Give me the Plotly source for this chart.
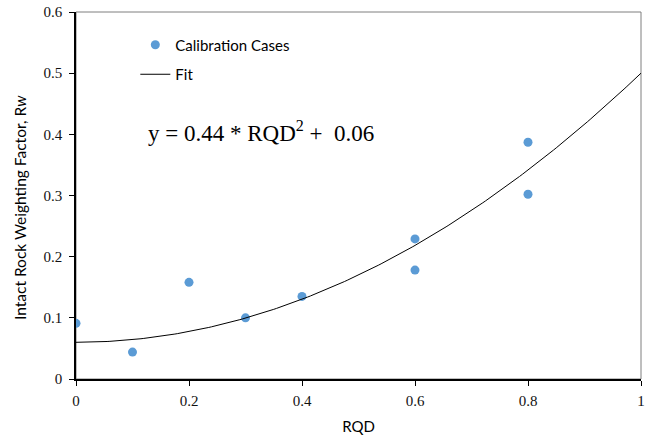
import numpy as np
import plotly.graph_objects as go

# Calibration data
rqd = [0.0, 0.1, 0.2, 0.3, 0.4, 0.6, 0.6, 0.8, 0.8]
rw = [0.091, 0.044, 0.158, 0.100, 0.135, 0.229, 0.178, 0.387, 0.302]

# Fit coefficients: Rw = A * RQD^2 + B
fit_a = 0.44
fit_b = 0.06

x_ticks = [0, 0.2, 0.4, 0.6, 0.8, 1]
x_tick_text = ["0", "0.2", "0.4", "0.6", "0.8", "1"]
y_ticks = [0, 0.1, 0.2, 0.3, 0.4, 0.5, 0.6]
y_tick_text = ["0", "0.1", "0.2", "0.3", "0.4", "0.5", "0.6"]

fit_x = np.linspace(0, 1, 201)
fit_y = fit_a * fit_x ** 2 + fit_b

sans = "Lato, Noto Sans, sans-serif"
serif = "Liberation Serif, DejaVu Serif, serif"
nb = "\u00a0"

fig = go.Figure()
fig.add_trace(go.Scatter(
    x=rqd, y=rw, mode="markers", name="Calibration Cases",
    marker=dict(color="#5B9BD5", size=9, line=dict(width=0)),
    legendgroup="a",
))
fig.add_trace(go.Scatter(
    x=fit_x, y=fit_y, mode="lines", name="Fit",
    line=dict(color="black", width=1),
    legendgroup="b",
))

# fitted equation
fig.add_annotation(
    x=0.124, y=0.405, xref="x", yref="y", xanchor="left", yanchor="middle",
    text=f"y{nb}={nb}{fit_a}{nb}*{nb}RQD<sup>2</sup>{nb}+{nb}{nb}{fit_b}",
    showarrow=False, font=dict(family=serif, size=23, color="black"),
)

# vertical axis title
fig.add_annotation(
    x=-0.099, y=0.466, xref="paper", yref="paper", xanchor="center", yanchor="middle",
    text="Intact Rock Weighting Factor, R<i>w</i>", textangle=-90, showarrow=False,
    font=dict(family=sans, size=15.5, color="black"),
)

# light frame on the top and right sides
fig.add_shape(type="rect", xref="paper", yref="paper", x0=0, y0=0, x1=1, y1=1,
              line=dict(color="#7f7f7f", width=1), layer="below")

fig.update_layout(
    width=651, height=436,
    margin=dict(l=76, r=10, t=12, b=57, autoexpand=False),
    paper_bgcolor="white", plot_bgcolor="white",
    showlegend=True,
    legend=dict(
        x=0.105, y=0.955, xanchor="left", yanchor="top",
        bgcolor="rgba(0,0,0,0)", font=dict(family=sans, size=15, color="black"),
        tracegroupgap=7, itemwidth=30,
    ),
    xaxis=dict(
        range=[0, 1], tickvals=x_ticks, ticktext=x_tick_text, automargin=False,
        showgrid=False, zeroline=False, showline=True, linecolor="black", linewidth=1.5,
        ticks="outside", ticklen=5, tickcolor="black", tickwidth=1,
        tickfont=dict(family=serif, size=15, color="#111"),
        ticklabelstandoff=2,
        title=dict(text="RQD", font=dict(family=sans, size=15, color="black"), standoff=14),
    ),
    yaxis=dict(
        range=[0, 0.6], tickvals=y_ticks, ticktext=y_tick_text, automargin=False,
        showgrid=False, zeroline=False, showline=True, linecolor="black", linewidth=1.5,
        ticks="outside", ticklen=5, tickcolor="black", tickwidth=1,
        tickfont=dict(family=serif, size=15, color="#111"),
        ticklabelstandoff=4,
    ),
)

fig.write_html("out.html")
